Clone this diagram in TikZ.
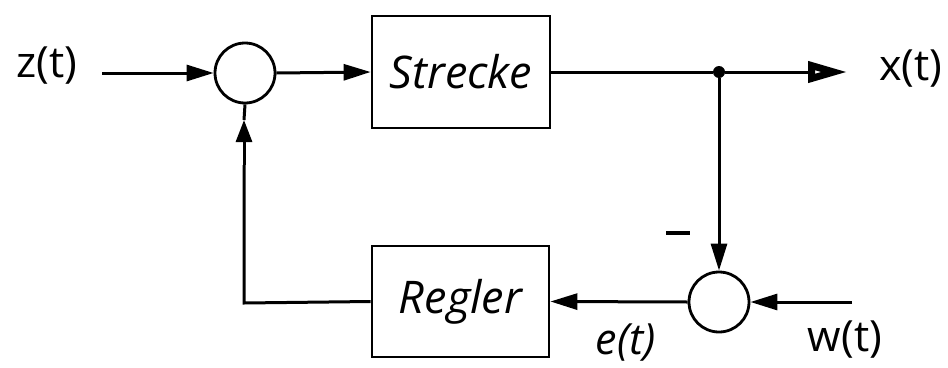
\documentclass[tikz,border=0pt]{standalone}
\usepackage{fontspec}
\setmainfont{Open Sans}
\usetikzlibrary{arrows.meta}
\tikzset{
  wire/.style={line width=3pt},
  block/.style={draw, line width=2.8pt, rectangle, inner sep=0pt},
  junction/.style={draw, line width=2.8pt, circle, minimum size=60pt, inner sep=0pt},
  lbl/.style={inner sep=0pt, font=\fontsize{43}{48}\selectfont},
  blocklbl/.style={font=\fontsize{45}{50}\selectfont\itshape},
  head/.style={-{Triangle[length=27pt,width=16pt]}},
  openhead/.style={-{Triangle[open,length=40pt,width=20pt,line width=7pt]}}
}
\begin{document}
\begin{tikzpicture}[x=1pt,y=-1pt]
\useasboundingbox (0,0) rectangle (948,367);
% blocks and summing points
\node[junction] (sumA) at (245,73) {};
\node[block, minimum width=178pt, minimum height=112pt, blocklbl] (strecke) at (461,72) {Strecke};
\node[junction] (sumB) at (719,302) {};
\node[block, minimum width=177pt, minimum height=111pt, blocklbl] (regler) at (460.5,301.5) {Regler};
% signal labels
\node[lbl] (zt) at (47,66) {z(t)};
\node[lbl] (xt) at (911,69) {x(t)};
\node[lbl] (wt) at (845,340) {w(t)};
\node[lbl, font=\fontsize{43}{48}\selectfont\itshape] (et) at (626,343) {e(t)};
\node[inner sep=0pt] (minus) at (678,233) {\rule{24pt}{4pt}};
% helper points
\coordinate (zin) at (102,73);
\coordinate (xout) at (848,72);
\coordinate (win) at (852,302);
\coordinate (corner) at (244,303);
\coordinate (upA) at (244,165);
\coordinate (upB) at (244,120);
\node[circle, fill, inner sep=0pt, minimum size=12pt] (tap) at (719,72) {};
% forward path
\draw[wire, head] (zin) -- (sumA.west);
\draw[wire, head] (sumA.east) -- (strecke.west);
\draw[wire] (strecke.east) -- (tap);
\draw[wire, openhead] (tap) -- (xout);
% measurement and comparison
\draw[wire, head] (tap) -- (sumB.north);
\draw[wire, head] (win) -- (sumB.east);
\draw[wire, head] (sumB.west) -- (regler.east);
% controller output fed back
\draw[wire] (regler.west) -- (corner) -- (upA);
\draw[wire, -{Triangle[length=22pt,width=16pt]}] (upA) -- (upB);
\draw[wire] (upB) -- (sumA.south);
\end{tikzpicture}
\end{document}
